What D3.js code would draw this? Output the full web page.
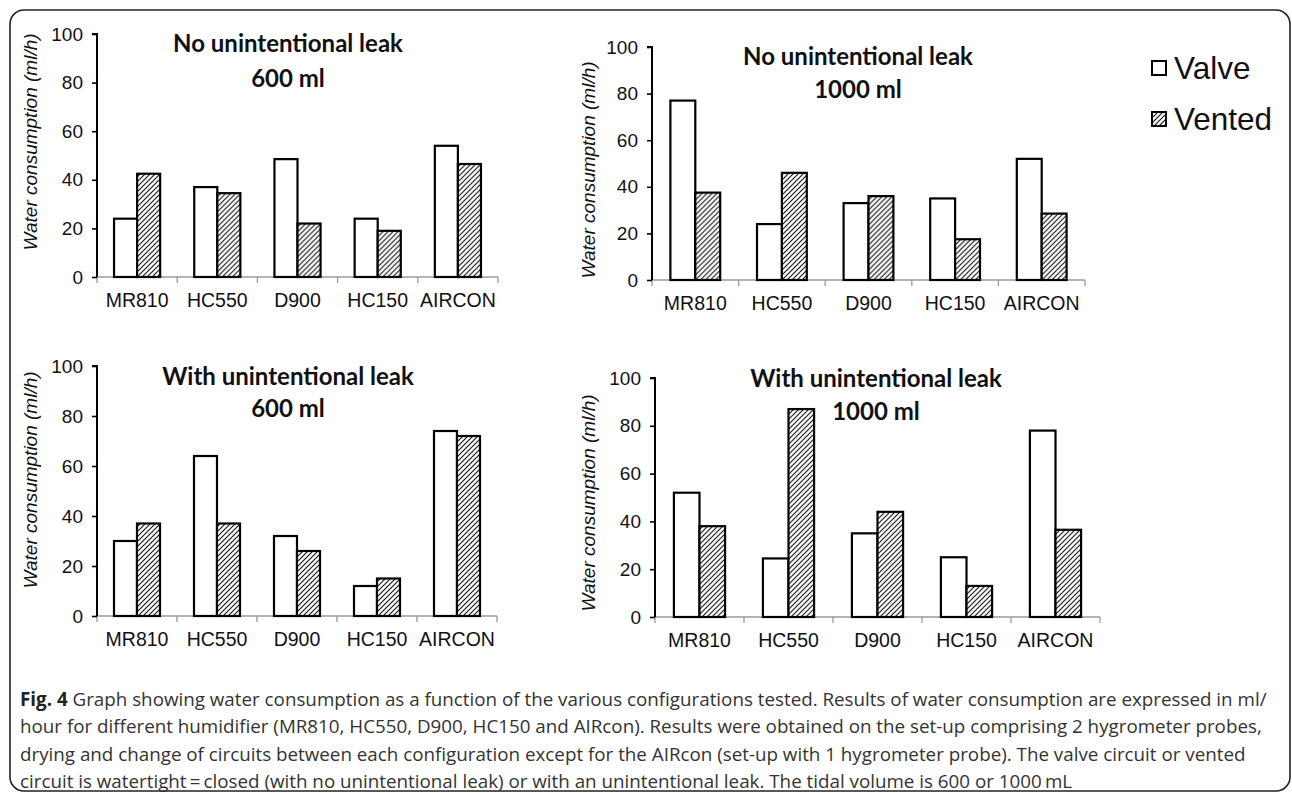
<!DOCTYPE html>
<html>
<head>
<meta charset="utf-8">
<script src="https://cdn.jsdelivr.net/npm/d3@7/dist/d3.min.js"></script>
<style>
  html, body { margin: 0; padding: 0; background: #fff; }
  svg { display: block; }
</style>
</head>
<body>
<svg id="chart" width="1292" height="793"></svg>
<script>
// ---------------- DATA ----------------
const categories = ["MR810", "HC550", "D900", "HC150", "AIRCON"];
const seriesNames = ["Valve", "Vented"];
const yTicks = [0, 20, 40, 60, 80, 100];

const noLeak600Valve   = [24, 37, 48.5, 24, 54];
const noLeak600Vented  = [42.5, 34.5, 22, 19, 46.5];
const noLeak1000Valve  = [77, 24, 33, 35, 52];
const noLeak1000Vented = [37.5, 46, 36, 17.5, 28.5];
const leak600Valve     = [30, 64, 32, 12, 74];
const leak600Vented    = [37, 37, 26, 15, 72];
const leak1000Valve    = [52, 24.5, 35, 25, 78];
const leak1000Vented   = [38, 87, 44, 13, 36.5];

const titleLine1 = ["No unintentional leak", "No unintentional leak", "With unintentional leak", "With unintentional leak"];
const titleLine2 = ["600 ml", "1000 ml", "600 ml", "1000 ml"];
const yAxisTitle = "Water consumption (ml/h)";

const captionBold = "Fig. 4";
const captionLines = [
  " Graph showing water consumption as a function of the various configurations tested. Results of water consumption are expressed in ml/",
  "hour for different humidifier (MR810, HC550, D900, HC150 and AIRcon). Results were obtained on the set-up comprising 2 hygrometer probes,",
  "drying and change of circuits between each configuration except for the AIRcon (set-up with 1 hygrometer probe). The valve circuit or vented",
  "circuit is watertight\u2009=\u2009closed (with no unintentional leak) or with an unintentional leak. The tidal volume is 600 or 1000\u2009mL"
];

// ---------------- LAYOUT ----------------
const panels = [
  { valve: noLeak600Valve,  vented: noLeak600Vented,  x0: 97,  x1: 498,  y0: 277, y1: 34,  tx: 288, ty: 52,  ty2: 87,  lx: 37,  ly: 142 },
  { valve: noLeak1000Valve, vented: noLeak1000Vented, x0: 652, x1: 1085, y0: 280, y1: 47,  tx: 858, ty: 65,  ty2: 98,  lx: 595, ly: 170 },
  { valve: leak600Valve,    vented: leak600Vented,    x0: 97,  x1: 497,  y0: 616, y1: 366, tx: 288, ty: 385, ty2: 417, lx: 37,  ly: 480 },
  { valve: leak1000Valve,   vented: leak1000Vented,   x0: 655, x1: 1100, y0: 617, y1: 378, tx: 876, ty: 387, ty2: 420, lx: 595, ly: 503 }
];

const svg = d3.select("#chart");

// hatch pattern
const defs = svg.append("defs");
const pat = defs.append("pattern")
  .attr("id", "hatch")
  .attr("patternUnits", "userSpaceOnUse")
  .attr("width", 5).attr("height", 5);
pat.append("rect").attr("width", 5).attr("height", 5).attr("fill", "#fff");
pat.append("path")
  .attr("d", "M-1,6 L6,-1 M-1,1 L1,-1 M4,6 L6,4")
  .attr("stroke", "#111").attr("stroke-width", 1.1);

// border
svg.append("rect")
  .attr("x", 10).attr("y", 10).attr("width", 1280).attr("height", 781)
  .attr("rx", 14).attr("ry", 14)
  .attr("fill", "none").attr("stroke", "#222").attr("stroke-width", 1.6);

const fills = ["#fff", "url(#hatch)"];

panels.forEach((p, i) => {
  const g = svg.append("g");
  const x = d3.scaleBand().domain(categories).range([p.x0, p.x1]).paddingInner(0.425).paddingOuter(0.2125);
  const xs = d3.scaleBand().domain(seriesNames).range([0, x.bandwidth()]);
  const y = d3.scaleLinear().domain([0, 100]).range([p.y0, p.y1]);

  // x axis (gray) with category boundary ticks
  const xAxisG = g.append("g").attr("transform", `translate(0,${p.y0})`);
  xAxisG.append("line").attr("x1", p.x0).attr("x2", p.x1).attr("y1", 0).attr("y2", 0)
    .attr("stroke", "#9a9a9a").attr("stroke-width", 1.3);
  const step = x.step();
  d3.range(categories.length + 1).forEach(k => {
    const bx = p.x0 + k * step;
    xAxisG.append("line").attr("x1", bx).attr("x2", bx).attr("y1", 0).attr("y2", 6)
      .attr("stroke", "#9a9a9a").attr("stroke-width", 1.3);
  });
  xAxisG.selectAll("text.cat").data(categories).join("text")
    .attr("class", "cat")
    .attr("x", d => x(d) + x.bandwidth() / 2)
    .attr("y", 30)
    .attr("text-anchor", "middle")
    .attr("font-family", "Liberation Sans, Arial, sans-serif")
    .attr("font-size", 19.5)
    .attr("fill", "#111")
    .text(d => d);

  // bars
  const rows = categories.map((c, j) => ({ c, vals: [p.valve[j], p.vented[j]] }));
  const grp = g.selectAll("g.cat").data(rows).join("g")
    .attr("transform", d => `translate(${x(d.c)},0)`);
  grp.selectAll("rect").data(d => d.vals.map((v, k) => ({ s: seriesNames[k], v, k })))
    .join("rect")
    .attr("x", d => xs(d.s))
    .attr("y", d => y(d.v))
    .attr("width", xs.bandwidth())
    .attr("height", d => y(0) - y(d.v))
    .attr("fill", d => fills[d.k])
    .attr("stroke", "#000")
    .attr("stroke-width", 2.2);

  // y axis
  const yAxis = d3.axisLeft(y).tickValues(yTicks).tickSize(5).tickPadding(9).tickFormat(d3.format("d"));
  const yG = g.append("g").attr("transform", `translate(${p.x0},0)`).call(yAxis);
  yG.select(".domain").attr("stroke", "#000").attr("stroke-width", 2).attr("d", `M-5,${p.y1}H0V${p.y0}`);
  yG.selectAll(".tick line").attr("stroke", "#000").attr("stroke-width", 1.6);
  yG.selectAll(".tick text")
    .attr("font-family", "Liberation Sans, Arial, sans-serif")
    .attr("font-size", 19)
    .attr("fill", "#111");

  // y axis title
  g.append("text")
    .attr("transform", `translate(${p.lx},${p.ly}) rotate(-90)`)
    .attr("text-anchor", "middle")
    .attr("font-family", "Liberation Sans, Arial, sans-serif")
    .attr("font-style", "italic")
    .attr("font-size", 19)
    .attr("fill", "#111")
    .text(yAxisTitle);

  // panel title
  g.append("text").attr("x", p.tx).attr("y", p.ty)
    .attr("text-anchor", "middle")
    .attr("font-family", "Lato, sans-serif").attr("font-weight", 700)
    .attr("font-size", 24).attr("fill", "#111")
    .text(titleLine1[i]);
  g.append("text").attr("x", p.tx).attr("y", p.ty2)
    .attr("text-anchor", "middle")
    .attr("font-family", "Lato, sans-serif").attr("font-weight", 700)
    .attr("font-size", 24).attr("fill", "#111")
    .text(titleLine2[i]);
});

// legend
const legend = svg.append("g");
const legY = [61, 112];
seriesNames.forEach((s, k) => {
  legend.append("rect")
    .attr("x", 1152).attr("y", legY[k]).attr("width", 14).attr("height", 14)
    .attr("fill", fills[k]).attr("stroke", "#000").attr("stroke-width", 2);
  legend.append("text")
    .attr("x", 1174).attr("y", legY[k] + 18)
    .attr("font-family", "Liberation Sans, Arial, sans-serif")
    .attr("font-size", 31.5).attr("fill", "#111")
    .text(s);
});

// caption
const cap = svg.append("g")
  .attr("font-family", "Open Sans, sans-serif")
  .attr("font-size", 18.8)
  .attr("fill", "#333");
const capY = [706, 733, 761, 788];
captionLines.forEach((line, k) => {
  const t = cap.append("text").attr("x", 20).attr("y", capY[k]);
  if (k === 0) {
    t.append("tspan").attr("font-weight", 700).attr("fill", "#222").text(captionBold);
  }
  t.append("tspan").text(line);
});
</script>
</body>
</html>
